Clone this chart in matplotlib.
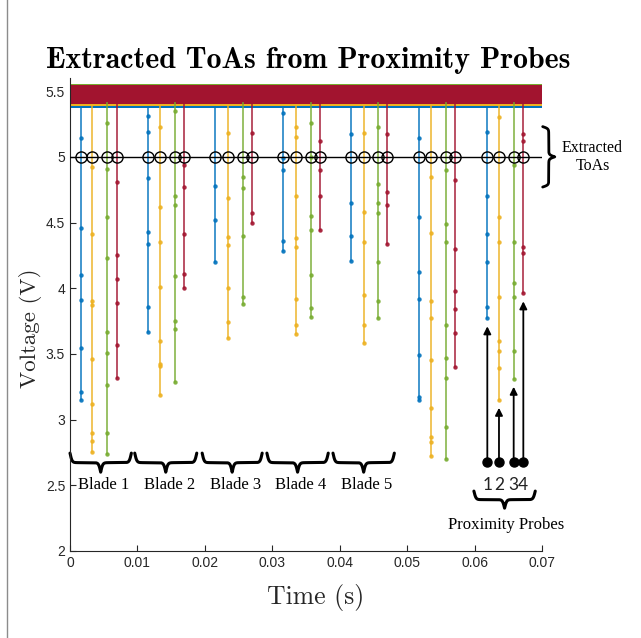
import numpy as np
import matplotlib
matplotlib.use('Agg')
import matplotlib.pyplot as plt
from matplotlib.lines import Line2D

# MATLAB default line colours, one per proximity probe
probe_colors = ['#0072BD', '#EDB120', '#77AC30', '#A2142F']
probe_names = ['1', '2', '3', '4']

# baseline noise band (min, max) of each probe signal, V
probe1_band = (5.375, 5.47)
probe2_band = (5.39, 5.50)
probe3_band = (5.41, 5.552)
probe4_band = (5.405, 5.548)

# blade passing times per probe (s): blades 1-5, then blades 1-2 of the next revolution
probe1_toa = [0.00159, 0.01161, 0.02155, 0.03163, 0.04167, 0.05180, 0.06189]
probe2_toa = [0.00331, 0.01335, 0.02343, 0.03352, 0.04356, 0.05357, 0.06362]
probe3_toa = [0.00553, 0.01557, 0.02561, 0.03570, 0.04572, 0.05572, 0.06580]
probe4_toa = [0.00693, 0.01695, 0.02704, 0.03708, 0.04706, 0.05713, 0.06723]

# sampled voltages inside each blade pulse (V)
probe1_dips = [
    [5.14, 4.46, 4.10, 3.91, 3.545, 3.21, 3.15],
    [5.31, 5.19, 4.84, 4.43, 4.34, 3.86, 3.67],
    [4.78, 4.52, 4.20],
    [5.33, 4.99, 4.90, 4.36, 4.28],
    [5.17, 4.65, 4.40, 4.21],
    [5.14, 4.54, 4.12, 3.92, 3.49, 3.17, 3.15],
    [5.19, 4.70, 4.41, 4.20, 3.86, 3.77],
]
probe2_dips = [
    [4.92, 4.41, 3.90, 3.87, 3.46, 3.12, 2.90, 2.84, 2.75],
    [5.23, 4.62, 4.35, 4.01, 3.60, 3.42, 3.41, 3.19],
    [5.18, 4.69, 4.39, 4.33, 4.00, 3.74, 3.62],
    [5.23, 5.15, 4.70, 4.38, 4.31, 3.92, 3.72, 3.65],
    [5.18, 4.58, 4.35, 3.95, 3.72, 3.58],
    [4.85, 4.42, 3.90, 3.77, 3.45, 3.09, 2.87, 2.83, 2.72],
    [5.30, 4.54, 4.35, 3.93, 3.60, 3.52, 3.39, 3.15],
]
probe3_dips = [
    [5.26, 4.91, 4.54, 4.23, 3.67, 3.51, 3.26, 2.90, 2.74],
    [5.35, 4.70, 4.63, 4.09, 3.75, 3.69, 3.29],
    [4.85, 4.76, 4.40, 3.93, 3.88],
    [5.26, 5.00, 4.55, 4.44, 4.10, 3.85, 3.78],
    [5.23, 4.79, 4.65, 4.57, 4.20, 3.90, 3.77],
    [4.90, 4.49, 4.35, 3.72, 3.47, 3.32, 2.94, 2.70],
    [4.94, 4.35, 4.04, 3.93, 3.52, 3.31],
]
probe4_dips = [
    [4.81, 4.25, 4.07, 3.89, 3.57, 3.32],
    [4.94, 4.77, 4.41, 4.11, 4.00],
    [5.18, 4.57, 4.50],
    [5.12, 4.90, 4.70, 4.44],
    [5.17, 4.73, 4.63, 4.34],
    [4.82, 4.30, 3.98, 3.84, 3.66, 3.40],
    [5.17, 5.12, 4.31, 4.27, 3.96],
]

threshold = 5.0
blade_labels = ['Blade 1', 'Blade 2', 'Blade 3', 'Blade 4', 'Blade 5']
blade_spans = [(0.0, 0.0091), (0.0096, 0.0188), (0.0196, 0.0285),
               (0.0292, 0.0383), (0.0390, 0.0481)]

bands = [probe1_band, probe2_band, probe3_band, probe4_band]
toas = [probe1_toa, probe2_toa, probe3_toa, probe4_toa]
dips = [probe1_dips, probe2_dips, probe3_dips, probe4_dips]


def curly(u, b=60.0):
    # brace profile: 0 at the ends, 0.5 along the body, 1 at the tip
    u = np.where(u > 0.5, 1 - u, u)
    v = 1 / (1 + np.exp(-b * u)) + 1 / (1 + np.exp(-b * (u - 0.5)))
    return v - 0.5


def hbrace(ax, x0, x1, ytop, depth, lw=2.2):
    u = np.linspace(0, 1, 401)
    ax.plot(x0 + u * (x1 - x0), ytop - depth * curly(u), color='k',
            lw=lw, clip_on=False, solid_capstyle='round')


def vbrace(ax, y0, y1, xleft, depth, lw=2.0):
    u = np.linspace(0, 1, 401)
    ax.plot(xleft + depth * curly(u), y0 + u * (y1 - y0), color='k',
            lw=lw, clip_on=False, solid_capstyle='round')


fig = plt.figure(figsize=(6.41, 6.38), dpi=100)
ax = fig.add_axes([70 / 641, 1 - 551 / 638, 472 / 641, (551 - 78) / 638])

t_end = 0.07
for band, ts, dd, c in zip(bands, toas, dips, probe_colors):
    ax.fill_between([0, t_end], band[0], band[1], color=c, lw=0, zorder=2)
    for t, v in zip(ts, dd):
        ax.plot([t] * (len(v) + 1), [band[0]] + v, color=c, lw=1.3,
                alpha=0.8, marker='.', ms=4.5, markevery=slice(1, None),
                zorder=3)

# threshold and extracted times of arrival
ax.plot([0, t_end], [threshold, threshold], color='k', lw=1.0, zorder=4)
all_toa = [t for ts in toas for t in ts]
ax.plot(all_toa, [threshold] * len(all_toa), 'o', mfc='none', mec='k',
        ms=8, mew=1.0, zorder=5)

vbrace(ax, 5.23, 4.77, 0.0701, 0.0018)
ax.text(0.0775, threshold, 'Extracted\nToAs', ha='center', va='center',
        family='Liberation Serif', fontsize=11.5, linespacing=1.2,
        clip_on=False)

# blade groups
for (x0, x1), lab in zip(blade_spans, blade_labels):
    hbrace(ax, x0, x1, 2.745, 0.145)
    ax.text((x0 + x1) / 2 + 0.0005, 2.50, lab, ha='center', va='center',
            family='Liberation Serif', fontsize=12)

# probe markers with arrows to the last pulse of each probe
probe_y = 2.68
for ts, dd, name in zip(toas, dips, probe_names):
    t = ts[-1]
    ax.annotate('', xy=(t, min(dd[-1]) - 0.06), xytext=(t, probe_y),
                arrowprops=dict(arrowstyle='-|>', color='k', lw=1.3,
                                mutation_scale=11, shrinkA=0, shrinkB=0))
    ax.plot(t, probe_y, 'o', color='k', ms=6.5, zorder=6)
    ax.text(t, 2.50, name, ha='center', va='center', family='Lato',
            fontsize=12.5, color='#222222')
hbrace(ax, 0.0599, 0.0690, 2.456, 0.13)
ax.text(0.0647, 2.195, 'Proximity Probes', ha='center', va='center',
        family='Liberation Serif', fontsize=12)

ax.set_xlim(0, t_end)
ax.set_ylim(2, 5.6)
xt = [0, 0.01, 0.02, 0.03, 0.04, 0.05, 0.06, 0.07]
ax.set_xticks(xt)
ax.set_xticklabels(['0'] + ['%.2f' % v for v in xt[1:]])
yt = [2, 2.5, 3, 3.5, 4, 4.5, 5, 5.5]
ax.set_yticks(yt)
ax.set_yticklabels(['%g' % v for v in yt])
ax.tick_params(direction='in', length=4, width=0.8, labelsize=10,
               colors='#262626')
for lab in ax.get_xticklabels() + ax.get_yticklabels():
    lab.set_family('Liberation Sans')
ax.spines['top'].set_visible(False)
ax.spines['right'].set_visible(False)
for s in ('left', 'bottom'):
    ax.spines[s].set_linewidth(0.8)
    ax.spines[s].set_color('#262626')

ax.set_xlabel('Time (s)', family='cmr10', fontsize=18.5, color='#262626')
ax.set_ylabel('Voltage (V)', family='cmr10', fontsize=16.5, color='#262626')
ax.xaxis.set_label_coords(0.52, -0.069)
ax.yaxis.set_label_coords(-0.06, 0.47)

fig.text(308 / 641, 1 - 60 / 638, 'Extracted ToAs from Proximity Probes',
         ha='center', va='center', family='cmb10', fontsize=21.5)
fig.add_artist(Line2D([7 / 641, 7 / 641], [0, 1], color='#8c8c8c', lw=1.0))

fig.savefig('out.png', dpi=100)
